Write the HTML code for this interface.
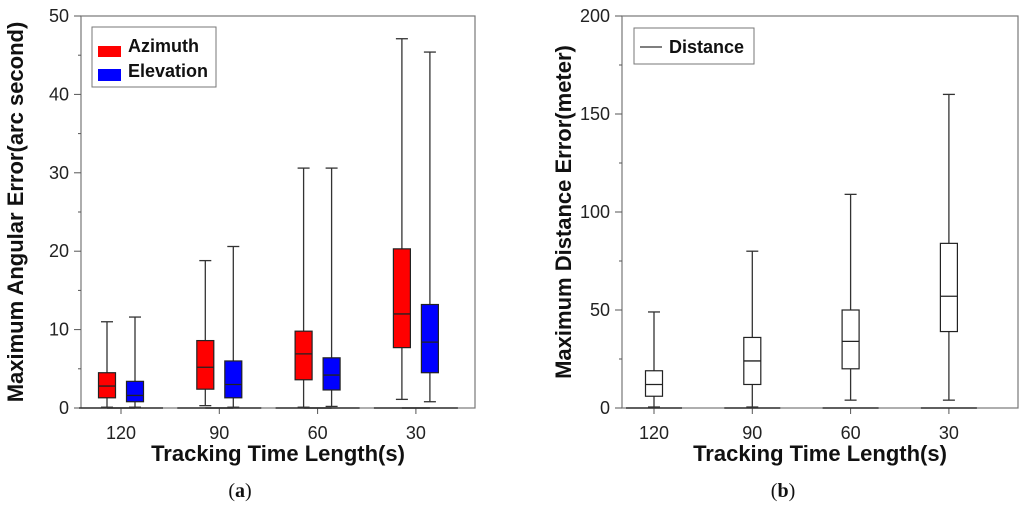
<!DOCTYPE html>
<html><head><meta charset="utf-8"><style>
body{margin:0;background:#fff;width:1024px;height:504px;overflow:hidden}
svg text{font-family:"Liberation Sans",sans-serif}
</style></head><body>
<svg id="c" width="1024" height="504"></svg>
<script>
const cats=["120","90","60","30"];
// [whiskerHigh, Q3, median, Q1, whiskerLow]
const azimuth=[[11,4.5,2.8,1.3,0.1],[18.8,8.6,5.2,2.4,0.3],[30.6,9.8,6.9,3.6,0.1],[47.1,20.3,12.0,7.7,1.1]];
const elevation=[[11.6,3.4,1.6,0.8,0.1],[20.6,6.0,3.0,1.3,0.1],[30.6,6.4,4.2,2.3,0.2],[45.4,13.2,8.4,4.5,0.8]];
const distance=[[49,19,12,6,0.5],[80,36,24,12,0.5],[109,50,34,20,4],[160,84,57,39,4]];
const leftTicks=[0,10,20,30,40,50];
const rightTicks=[0,50,100,150,200];
const NS="http://www.w3.org/2000/svg";
const svg=document.getElementById('c');
function mk(t,a,txt){const e=document.createElementNS(NS,t);for(const k in a)e.setAttribute(k,a[k]);if(txt!=null)e.textContent=txt;svg.appendChild(e);return e;}
function panel(p){
  const y=v=>p.b-(v/p.max)*(p.b-p.t);
  const x=i=>p.x0+i*p.dx;
  let e=mk('rect',{x:p.l,y:p.t,width:p.r-p.l,height:p.b-p.t,fill:'none',stroke:'#777','stroke-width':1.2});
  
  const minorStep=p.ticks[1]/2;
  for(let v=0;v<=p.max+1e-9;v+=minorStep){
    const major=p.ticks.some(t=>Math.abs(t-v)<1e-9);
    mk('line',{x1:p.l-(major?7:3),x2:p.l,y1:y(v),y2:y(v),stroke:'#555'});
  }
  p.ticks.forEach(t=>{e=mk('text',{x:p.l-12,y:y(t)+6,'text-anchor':'end','font-size':18,fill:'#222'},t);
    });
  cats.forEach((c,i)=>{mk('line',{x1:x(i),x2:x(i),y1:p.b,y2:p.b+6,stroke:'#555'});
    e=mk('text',{x:x(i),y:p.b+31,'text-anchor':'middle','font-size':18,fill:'#222'},c);
    });
  e=mk('text',{x:(p.l+p.r)/2,y:p.b+53,'text-anchor':'middle','font-size':22,'font-weight':'bold',fill:'#111'},'Tracking Time Length(s)');
  
  e=mk('text',{x:0,y:0,transform:`translate(${p.ytx},${(p.t+p.b)/2}) rotate(-90)`,'text-anchor':'middle','font-size':22,'font-weight':'bold',fill:'#111'},p.ytitle);
  
  p.series.forEach(s=>{
    s.data.forEach((d,i)=>{
      const cx=x(i)+s.off,w=p.bw;
      const g=document.createElementNS(NS,'g');svg.appendChild(g);
      
      const add=(t,a)=>{const el=document.createElementNS(NS,t);for(const k in a)el.setAttribute(k,a[k]);g.appendChild(el);};
      add('line',{x1:cx-28,x2:cx+28,y1:y(0),y2:y(0),stroke:'#333','stroke-width':1.5});
      add('line',{x1:cx,x2:cx,y1:y(d[0]),y2:y(d[1]),stroke:'#333','stroke-width':1.3});
      add('line',{x1:cx,x2:cx,y1:y(d[3]),y2:y(d[4]),stroke:'#333','stroke-width':1.3});
      add('line',{x1:cx-6,x2:cx+6,y1:y(d[0]),y2:y(d[0]),stroke:'#333','stroke-width':1.3});
      add('line',{x1:cx-6,x2:cx+6,y1:y(d[4]),y2:y(d[4]),stroke:'#333','stroke-width':1.3});
      add('rect',{x:cx-w/2,y:y(d[1]),width:w,height:y(d[3])-y(d[1]),fill:s.color,stroke:'#222','stroke-width':1.2});
      add('line',{x1:cx-w/2,x2:cx+w/2,y1:y(d[2]),y2:y(d[2]),stroke:'#222','stroke-width':1.3});
    });
  });
}
panel({id:'left',l:81,r:475,t:16,b:408,max:50,x0:121,dx:98.3,bw:17,ticks:leftTicks,ytx:23,ytitle:'Maximum Angular Error(arc second)',
  series:[{name:'azimuth',data:azimuth,color:'#ff0000',off:-14},{name:'elevation',data:elevation,color:'#0000ff',off:14}]});
panel({id:'right',l:622,r:1018,t:16,b:408,max:200,x0:654,dx:98.3,bw:17,ticks:rightTicks,ytx:571,ytitle:'Maximum Distance Error(meter)',
  series:[{name:'distance',data:distance,color:'#fff',off:0}]});
let e;
e=mk('rect',{x:92,y:27,width:124,height:60,fill:'#fff',stroke:'#777'});
mk('rect',{x:98,y:46,width:23,height:11,fill:'#ff0000'});
e=mk('text',{x:128,y:52,'font-size':18,'font-weight':'bold',fill:'#111'},'Azimuth');
mk('rect',{x:98,y:69,width:23,height:12,fill:'#0000ff'});
e=mk('text',{x:128,y:77,'font-size':18,'font-weight':'bold',fill:'#111'},'Elevation');
e=mk('rect',{x:634,y:28,width:120,height:36,fill:'#fff',stroke:'#777'});
mk('line',{x1:640,x2:662,y1:47,y2:47,stroke:'#333','stroke-width':1.3});
e=mk('text',{x:669,y:53,'font-size':18,'font-weight':'bold',fill:'#111'},'Distance');
e=mk('text',{x:240,y:497,'text-anchor':'middle','font-size':20,fill:'#111'},'');
e.innerHTML='(<tspan font-weight="bold">a</tspan>)';e.setAttribute('style','font-family:"Liberation Serif",serif');
e=mk('text',{x:783,y:497,'text-anchor':'middle','font-size':20,fill:'#111'},'');
e.innerHTML='(<tspan font-weight="bold">b</tspan>)';e.setAttribute('style','font-family:"Liberation Serif",serif');
</script>
</body></html>
